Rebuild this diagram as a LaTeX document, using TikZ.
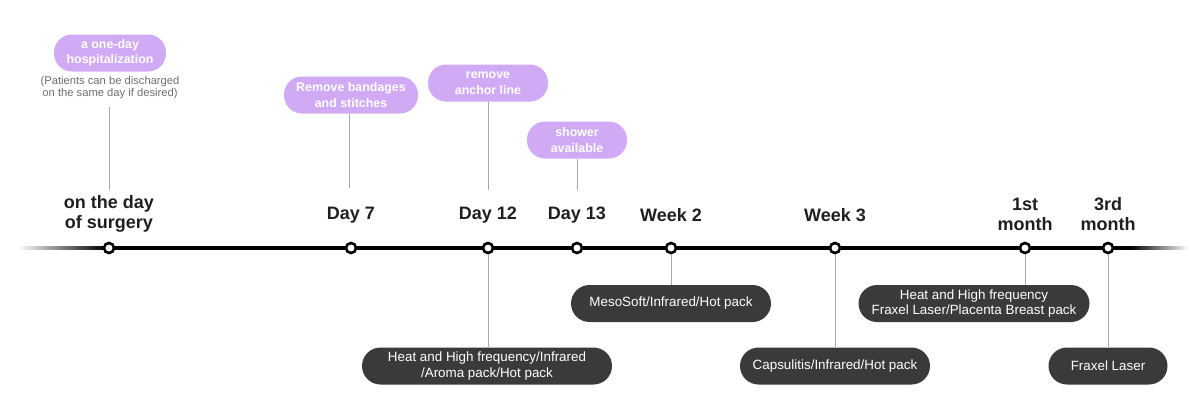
\documentclass[tikz,border=0pt]{standalone}
\usepackage{fontspec}
\setmainfont{Liberation Sans}
\definecolor{pillpurple}{HTML}{D0AAF5}
\definecolor{pilldark}{HTML}{3A3A3A}
\definecolor{notegray}{HTML}{6E6E6E}
\definecolor{linegray}{HTML}{A8A8A8}
\tikzset{
  purplepill/.style={fill=pillpurple, rounded corners=18pt, minimum height=37pt, inner sep=0pt, align=center, text=white, font=\bfseries\fontsize{12.4}{15.5}\selectfont},
  darkpill/.style={fill=pilldark, rounded corners=18.5pt, minimum height=37pt, inner sep=0pt, align=center, text=white, font=\fontsize{13.4}{15.5}\selectfont},
  daylabel/.style={align=center, text=black!88, font=\bfseries\fontsize{18}{20}\selectfont, inner sep=0pt},
  dot/.style={circle, draw=black, fill=white, line width=2.6pt, minimum size=10pt, inner sep=0pt},
  conn/.style={draw=linegray, line width=0.9pt},
  note/.style={align=center, text=notegray, font=\fontsize{11.2}{12}\selectfont, inner sep=0pt}
}
\begin{document}
\begin{tikzpicture}[x=1pt,y=-1pt]
\useasboundingbox (0,0) rectangle (1198,418);
% timeline
\shade[left color=white, right color=black] (18,246.3) rectangle (105,249.7);
\fill[black] (104,246.3) rectangle (1132,249.7);
\shade[left color=black, right color=white] (1131,246.3) rectangle (1188,249.7);
% dots
\node[dot] (c1) at (109,248) {};
\node[dot] (c2) at (351,248) {};
\node[dot] (c3) at (488,248) {};
\node[dot] (c4) at (577,248) {};
\node[dot] (c5) at (671,248) {};
\node[dot] (c6) at (835,248) {};
\node[dot] (c7) at (1025,248) {};
\node[dot] (c8) at (1108,248) {};
% labels
\node[daylabel] (l1) at (109,214) {on the day\\of surgery};
\node[daylabel] (l2) at (351,215) {Day 7};
\node[daylabel] (l3) at (488,215) {Day 12};
\node[daylabel] (l4) at (577,215) {Day 13};
\node[daylabel] (l5) at (671,215) {Week 2};
\node[daylabel] (l6) at (835,215) {Week 3};
\node[daylabel] (l7) at (1025,214) {1st\\month};
\node[daylabel] (l8) at (1108,214) {3rd\\month};
% purple pills
\node[purplepill, minimum width=112pt] (p1) at (110,53) {a one-day\\hospitalization};
\node[note] (n1) at (110,88) {(Patients can be discharged\\on the same day if desired)};
\node[purplepill, minimum width=134pt] (p2) at (351,95) {Remove bandages\\and stitches};
\node[purplepill, minimum width=120pt] (p3) at (488,83) {remove\\anchor line};
\node[purplepill, minimum width=100pt] (p4) at (577,140) {shower\\available};
% dark pills
\node[darkpill, minimum width=250pt] (d1) at (487,366) {Heat and High frequency/Infrared\\/Aroma pack/Hot pack};
\node[darkpill, minimum width=200pt] (d2) at (671,303.5) {MesoSoft/Infrared/Hot pack};
\node[darkpill, minimum width=190pt] (d3) at (835,366) {Capsulitis/Infrared/Hot pack};
\node[darkpill, minimum width=231pt] (d4) at (974,303.5) {Heat and High frequency\\Fraxel Laser/Placenta Breast pack};
\node[darkpill, minimum width=119pt] (d5) at (1108,366) {Fraxel Laser};
% connectors above
\draw[conn] (109,107) -- (109,190);
\draw[conn] (p2.south -| l2.north) ++(-2,0) -- ++(0,74);
\draw[conn] (p3.south) -- (p3.south |- 0,190);
\draw[conn] (p4.south) -- (p4.south |- 0,190);
% connectors below
\draw[conn] (c3.south) -- (c3.south |- d1.north);
\draw[conn] (c5.south) -- (c5.south |- d2.north);
\draw[conn] (c6.south) -- (c6.south |- d3.north);
\draw[conn] (c7.south) -- (c7.south |- d4.north);
\draw[conn] (c8.south) -- (c8.south |- d5.north);
\end{tikzpicture}
\end{document}
